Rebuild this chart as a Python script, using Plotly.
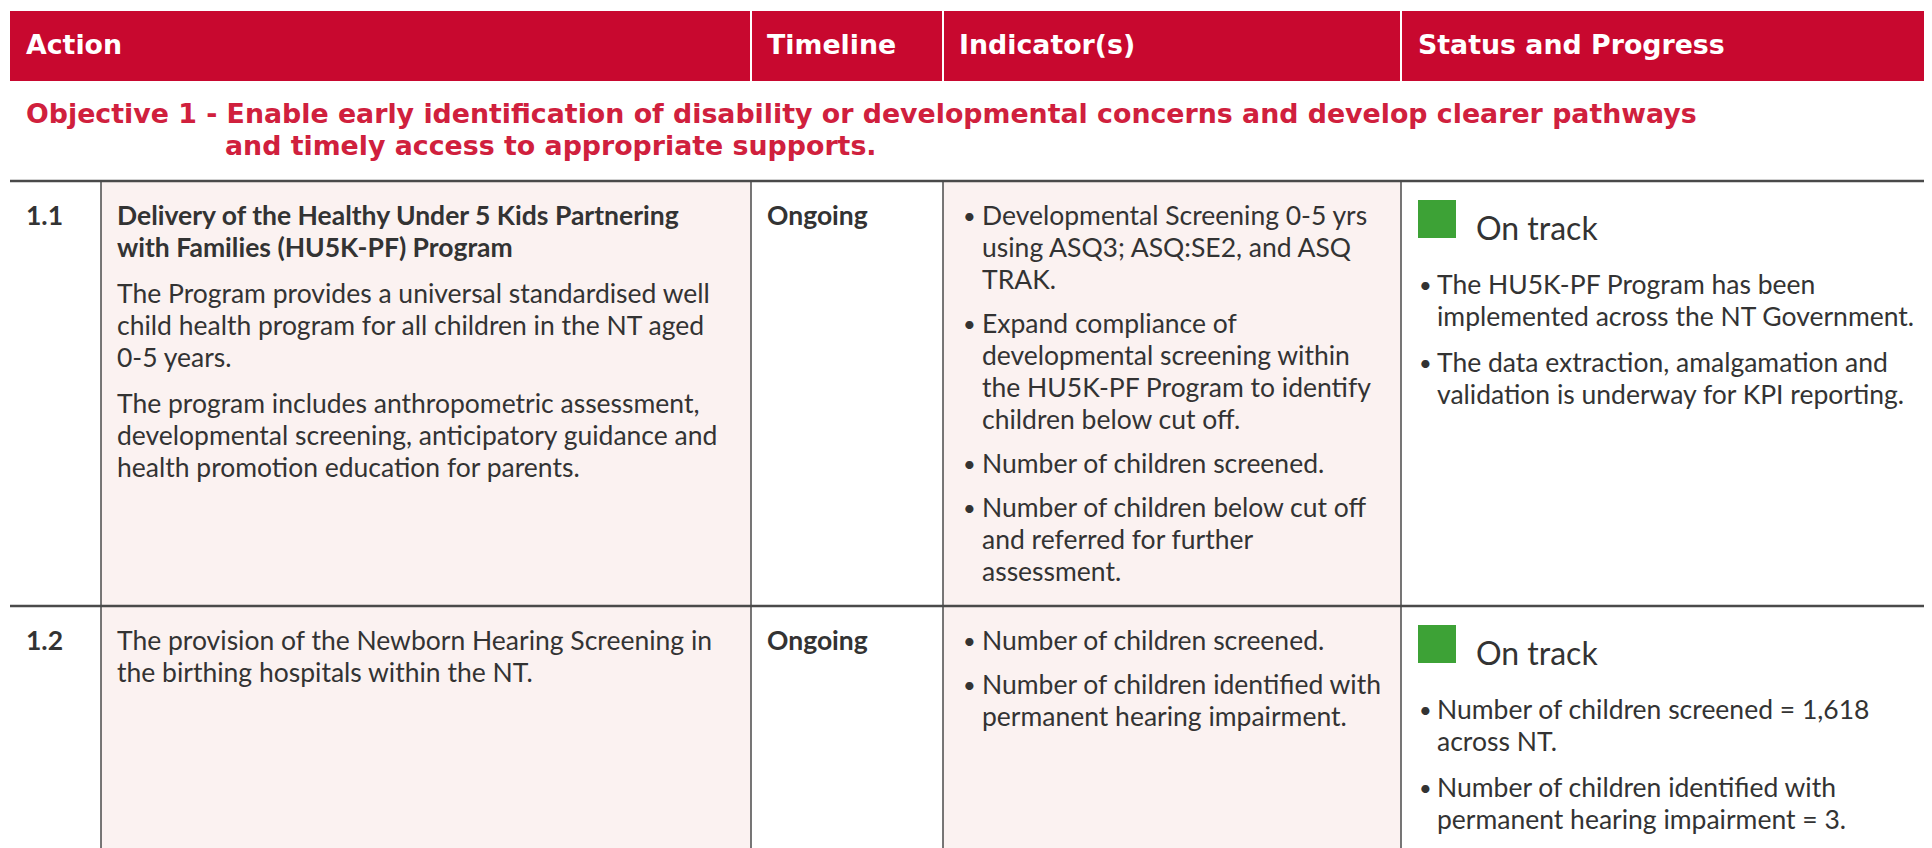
import plotly.graph_objects as go

W, H = 1932, 848

# ---------------- data ----------------
header_labels = ["Action", "Timeline", "Indicator(s)", "Status and Progress"]
objective_lines = [
    "Objective 1 - Enable early identification of disability or developmental concerns and develop clearer pathways",
    "and timely access to appropriate supports.",
]
action_ids = ["1.1", "1.2"]
action_titles = [
    ["Delivery of the Healthy Under 5 Kids Partnering", "with Families (HU5K-PF) Program"],
    [],
]
action_descriptions = [
    [["The Program provides a universal standardised well",
      "child health program for all children in the NT aged",
      "0-5 years."],
     ["The program includes anthropometric assessment,",
      "developmental screening, anticipatory guidance and",
      "health promotion education for parents."]],
    [["The provision of the Newborn Hearing Screening in",
      "the birthing hospitals within the NT."]],
]
timelines = ["Ongoing", "Ongoing"]
indicators = [
    [["Developmental Screening 0-5 yrs", "using ASQ3; ASQ:SE2, and ASQ", "TRAK."],
     ["Expand compliance of", "developmental screening within",
      "the HU5K-PF Program to identify", "children below cut off."],
     ["Number of children screened."],
     ["Number of children below cut off", "and referred for further", "assessment."]],
    [["Number of children screened."],
     ["Number of children identified with", "permanent hearing impairment."]],
]
status_labels = ["On track", "On track"]
status_colors = ["#3DA236", "#3DA236"]
status_notes = [
    [["The HU5K-PF Program has been", "implemented across the NT Government."],
     ["The data extraction, amalgamation and", "validation is underway for KPI reporting."]],
    [["Number of children screened = 1,618", "across NT."],
     ["Number of children identified with", "permanent hearing impairment = 3."]],
]

# ---------------- style / layout ----------------
RED = "#C8082F"
OBJ_RED = "#D0203D"
PINK = "#FBF2F1"
LINE = "#4A4A4A"
TEXT = "#333333"

BODY_FONT = "Lato"
HEAD_FONT = "DejaVu Sans"
BODY_SIZE = 26.5
HEAD_SIZE = 26.8
STATUS_SIZE = 32

OFF = 8  # page body margin compensation
col_x = [10, 101, 751, 943, 1401, W + OFF]
header_top, header_bot = 11, 81
row_tops = [181, 606]
row_bottoms = [606, H + OFF]
LINE_H = 32
PARA_GAP = 14
FIRST = 34

shapes = []
annotations = []


def txt(x, y, s, size=BODY_SIZE, color=TEXT, family=BODY_FONT, bold=False):
    annotations.append(dict(
        x=x, y=y, xref="x", yref="y", text=("<b>%s</b>" % s) if bold else s,
        showarrow=False, xanchor="left", yanchor="middle",
        font=dict(family=family, size=size, color=color),
        borderpad=0,
    ))


# header band
shapes.append(dict(type="rect", x0=col_x[0], x1=col_x[-1], y0=header_top, y1=header_bot,
                   fillcolor=RED, line=dict(width=0), layer="below"))
for cx in col_x[2:5]:
    shapes.append(dict(type="line", x0=cx, x1=cx, y0=header_top, y1=header_bot,
                       line=dict(color="white", width=2)))
header_text_x = [25, 766, 958, 1417]
for hx, lab in zip(header_text_x, header_labels):
    txt(hx, 44, lab, size=HEAD_SIZE, color="white", family=HEAD_FONT, bold=True)

# objective
obj_x = [25, 224]
obj_y = [113, 145]
for ox, oy, line in zip(obj_x, obj_y, objective_lines):
    txt(ox, oy, line, size=HEAD_SIZE, color=OBJ_RED, family=HEAD_FONT, bold=True)

# rows
for i in range(len(action_ids)):
    top, bot = row_tops[i], row_bottoms[i]
    for (a, b) in [(col_x[1], col_x[2]), (col_x[3], col_x[4])]:
        shapes.append(dict(type="rect", x0=a, x1=b, y0=top, y1=bot,
                           fillcolor=PINK, line=dict(width=0), layer="below"))
    for cx in col_x[1:5]:
        shapes.append(dict(type="line", x0=cx, x1=cx, y0=top, y1=bot,
                           line=dict(color=LINE, width=1.5)))
    shapes.append(dict(type="line", x0=col_x[0], x1=col_x[-1], y0=top, y1=top,
                       line=dict(color=LINE, width=2.5)))

    y0 = top + FIRST
    txt(25, y0, action_ids[i], bold=True)
    y = y0
    paras = ([action_titles[i]] if action_titles[i] else []) + action_descriptions[i]
    for pi, para in enumerate(paras):
        for line in para:
            txt(116, y, line, bold=(pi == 0 and bool(action_titles[i])))
            y += LINE_H
        y += PARA_GAP
    txt(766, y0, timelines[i], bold=True)
    y = y0
    for para in indicators[i]:
        txt(962, y, "•", size=22)
        for line in para:
            txt(981, y, line)
            y += LINE_H
        y += PARA_GAP - 2
    shapes.append(dict(type="rect", x0=1418, x1=1456, y0=top + 19, y1=top + 57,
                       fillcolor=status_colors[i], line=dict(width=0)))
    txt(1475, top + 46, status_labels[i], size=STATUS_SIZE)
    y = top + 103
    for para in status_notes[i]:
        txt(1418, y, "•", size=22)
        for line in para:
            txt(1436, y, line)
            y += LINE_H
        y += PARA_GAP

fig = go.Figure()
fig.update_layout(
    width=W, height=H,
    margin=dict(l=0, r=0, t=0, b=0),
    paper_bgcolor="white", plot_bgcolor="white",
    xaxis=dict(range=[OFF, W + OFF], visible=False, fixedrange=True),
    yaxis=dict(range=[H + OFF, OFF], visible=False, fixedrange=True),
    shapes=shapes, annotations=annotations, showlegend=False,
)
fig.write_html("out.html")
